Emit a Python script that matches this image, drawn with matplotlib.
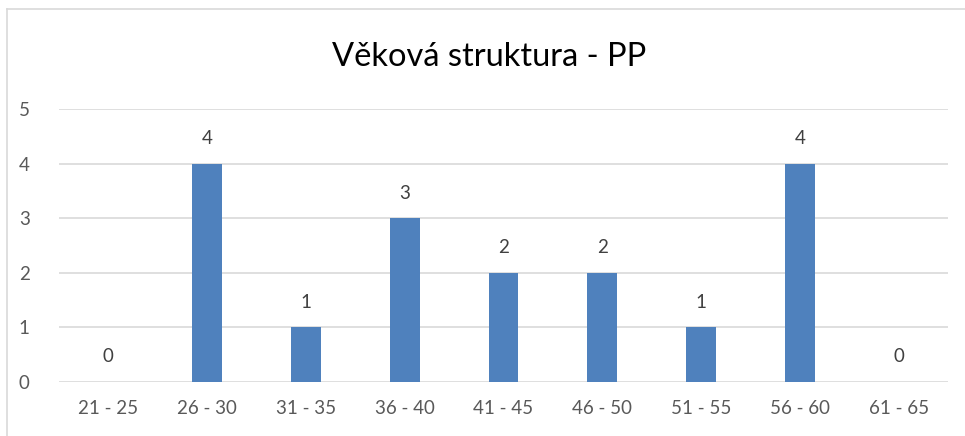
import matplotlib.pyplot as plt
from matplotlib.lines import Line2D

# věkové skupiny a počty
kategorie = ['21 - 25', '26 - 30', '31 - 35', '36 - 40', '41 - 45',
             '46 - 50', '51 - 55', '56 - 60', '61 - 65']
pocty = [0, 4, 1, 3, 2, 2, 1, 4, 0]

plt.rcParams['font.family'] = ['Lato', 'DejaVu Sans']

fig = plt.figure(figsize=(9.65, 4.36), dpi=100)
ax = fig.add_axes([0.0611, 0.1239, 0.9213, 0.6261])

x = range(len(kategorie))
ax.bar(x, pocty, width=0.30, color='#4F81BD', zorder=3)

# popisky hodnot nad sloupci
for xi, v in zip(x, pocty):
    ax.annotate(str(v), (xi, v), xytext=(0, 12), textcoords='offset points',
                ha='center', va='bottom', fontsize=13.5, color='#404040')

ax.set_xlim(-0.5, len(kategorie) - 0.5)
ax.set_ylim(0, 5)
ax.set_yticks(range(6))
ax.set_xticks(list(x))
ax.set_xticklabels(kategorie)
ax.grid(axis='y', color='#D9D9D9', linewidth=1.2, zorder=0)
ax.tick_params(axis='both', length=0, labelsize=13.5, labelcolor='#595959')
ax.tick_params(axis='x', pad=13)
ax.tick_params(axis='y', pad=21)
for s in ax.spines.values():
    s.set_visible(False)

fig.text(0.507, 0.87, 'Věková struktura - PP', ha='center', va='center',
         fontsize=23.5, color='#000000')

# rámeček grafu
fig.add_artist(Line2D([0.0073, 0.0073], [0, 0.979], transform=fig.transFigure,
                      color='#D9D9D9', linewidth=1.2))
fig.add_artist(Line2D([0.0073, 1], [0.979, 0.979], transform=fig.transFigure,
                      color='#D9D9D9', linewidth=1.2))

fig.savefig('out.png', dpi=100)
